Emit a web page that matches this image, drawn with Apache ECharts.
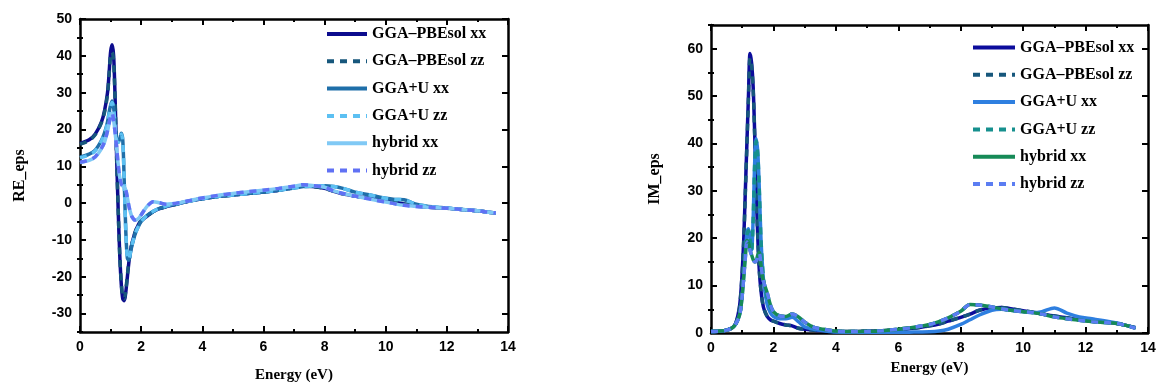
<!DOCTYPE html>
<html><head><meta charset="utf-8">
<script src="https://cdn.jsdelivr.net/npm/echarts@6/dist/echarts.min.js"></script>
<style>html,body{margin:0;padding:0;background:#fff}#c{width:1160px;height:388px}</style>
</head><body><div id="c"></div>
<script>
// Energy grid (eV)
const energy = [0,0.3,0.5,0.7,0.8,0.9,0.95,1.0,1.05,1.1,1.15,1.2,1.25,1.3,1.35,1.4,1.45,1.5,1.55,1.6,1.65,1.7,1.8,1.9,2.0,2.2,2.4,2.6,2.8,3.0,3.3,3.6,4.0,4.5,5.0,5.5,6.0,6.5,7.0,7.3,7.6,8.0,8.3,8.6,9.0,9.3,9.6,10.0,10.3,10.6,11.0,11.4,11.8,12.2,12.6,13.0,13.3,13.6];

const legendNames = ['GGA–PBEsol xx','GGA–PBEsol zz','GGA+U xx','GGA+U zz','hybrid xx','hybrid zz'];
const xTicks = [0,2,4,6,8,10,12,14];
const reTicks = [-30,-20,-10,0,10,20,30,40,50];
const imTicks = [0,10,20,30,40,50,60];

// RE_eps
const re_pbe_xx = [16.2,17.2,18.8,22,25,30,35,41,43,40,28,12,-2,-14,-22,-26,-26.5,-24,-20,-16,-13,-11,-8,-6,-4.8,-3.5,-2.3,-1.5,-1,-0.6,0,0.6,1.2,1.8,2.2,2.6,3.0,3.5,4.2,4.6,4.5,4.0,3.2,2.5,1.9,1.5,1.1,0.6,0.3,-0.2,-0.8,-1.1,-1.3,-1.5,-1.8,-2.1,-2.4,-2.7];
const re_pbe_zz = [16.0,17.0,18.6,21.8,24.6,29.5,34.5,40,41,38.5,27,11.5,-2,-14,-21.5,-25.5,-26,-23.5,-19.5,-15.8,-13,-11,-8,-6,-4.8,-3.5,-2.3,-1.5,-1,-0.6,0,0.6,1.2,1.8,2.2,2.6,3.0,3.5,4.2,4.6,4.5,4.0,3.2,2.5,1.9,1.5,1.1,0.6,0.3,-0.2,-0.8,-1.1,-1.3,-1.5,-1.8,-2.1,-2.4,-2.7];
const re_u_xx = [12.5,13.3,14.4,17,19,22,24.5,26.5,27.7,26,21,17,16.5,17.5,19,17,5,-8,-15,-15.5,-13.5,-11.5,-8.5,-6.5,-5,-3.3,-2.2,-1.4,-0.9,-0.5,0.1,0.6,1.2,1.8,2.2,2.6,3.0,3.5,4.1,4.5,4.6,4.7,4.5,4.0,3.0,2.5,2.0,1.3,1.0,0.9,-0.3,-0.9,-1.2,-1.5,-1.8,-2.1,-2.4,-2.7];
const re_u_zz = [12.3,13.1,14.2,16.8,18.8,21.7,24.2,26.2,27.3,25.7,20.8,17,16.5,17.4,18.8,16.8,5,-8,-14.8,-15.3,-13.4,-11.4,-8.5,-6.5,-5,-3.3,-2.2,-1.4,-0.9,-0.5,0.1,0.6,1.2,1.8,2.2,2.6,3.0,3.5,4.1,4.5,4.6,4.7,4.5,4.0,3.0,2.5,2.0,1.3,1.0,0.9,-0.3,-0.9,-1.2,-1.5,-1.8,-2.1,-2.4,-2.7];
const re_h_xx = [11.0,11.6,12.5,14.8,16.5,19.5,21.5,23.5,24.5,22.5,19,15,10.5,7,5.2,4.6,4.3,3.5,1.5,-0.8,-2.5,-3.7,-4.6,-4.3,-3.2,-0.8,0.4,0.1,-0.3,-0.2,0.2,0.7,1.4,2.1,2.6,3.1,3.5,4.0,4.6,5.0,4.8,4.3,3.3,2.6,1.9,1.4,0.9,0.3,-0.2,-0.6,-0.9,-1.1,-1.3,-1.5,-1.8,-2.1,-2.4,-2.7];
const re_h_zz = [11.1,11.7,12.6,14.9,16.6,19.6,21.6,23.6,24.4,22.4,19,15,10.5,7,5.2,4.6,4.3,3.5,1.5,-0.8,-2.5,-3.7,-4.6,-4.3,-3.2,-0.8,0.4,0.1,-0.3,-0.2,0.2,0.7,1.4,2.1,2.6,3.1,3.5,4.0,4.6,5.0,4.8,4.3,3.3,2.6,1.9,1.4,0.9,0.3,-0.2,-0.6,-0.9,-1.1,-1.3,-1.5,-1.8,-2.1,-2.4,-2.7];

// IM_eps
const im_pbe_xx = [0.3,0.4,0.6,1.2,2.2,5,8,13,20,30,40,50,59,57,52,42,30,20,13,9,6.5,5,3.5,2.8,2.5,2.0,1.7,1.5,1.0,0.8,0.6,0.5,0.3,0.3,0.4,0.5,0.7,1.0,1.5,1.9,2.5,3.3,4.0,4.8,5.3,5.4,5.1,4.7,4.4,4.0,3.6,3.2,2.8,2.5,2.3,2.0,1.6,1.1];
const im_pbe_zz = [0.3,0.4,0.6,1.2,2.1,4.8,7.8,12.8,19.5,29.5,39.5,49.5,58,56.5,51.5,41.5,30,20,13,9,6.5,5,3.5,2.8,2.5,2.0,1.7,1.5,1.0,0.8,0.6,0.5,0.3,0.3,0.4,0.5,0.7,1.0,1.5,1.9,2.5,3.3,4.0,4.8,5.3,5.4,5.1,4.7,4.4,4.0,3.6,3.2,2.8,2.5,2.3,2.0,1.6,1.1];
const im_u_xx = [0.3,0.4,0.6,1.2,2.0,3.5,5,8,12,17,21,22,20,17.5,24,36,41,38,30,20,14,10,6,4.3,3.5,3.0,3.0,3.3,2.4,1.3,0.8,0.5,0.2,0.15,0.15,0.15,0.15,0.2,0.25,0.4,0.8,1.8,2.8,3.8,4.8,5.0,4.8,4.5,4.3,4.5,5.3,4.2,3.4,3.0,2.6,2.1,1.6,1.1];
const im_u_zz = [0.3,0.4,0.6,1.2,2.0,3.5,5,8,12,16.8,20.6,21.6,19.8,17.4,23.6,35.5,40.5,37.6,29.6,19.8,14,10.3,7.5,5.5,4.5,3.6,3.5,4.0,3.4,2.3,1.2,0.8,0.4,0.3,0.35,0.5,0.8,1.2,1.8,2.4,3.2,4.6,6.0,5.9,5.5,5.1,4.8,4.5,4.3,4.0,3.4,3.0,2.7,2.4,2.2,2.0,1.6,1.0];
const im_h_xx = [0.3,0.4,0.6,1.2,2.0,3.5,5,8,12,16,19.5,19,17.5,16.5,15.5,15,15.2,16.5,17,14.5,12,10.5,8.5,6,4.5,3.6,3.5,4.0,3.4,2.3,1.2,0.8,0.4,0.3,0.35,0.5,0.8,1.2,1.8,2.4,3.2,4.6,6.0,5.9,5.5,5.1,4.8,4.5,4.3,4.0,3.4,3.0,2.7,2.4,2.2,2.0,1.6,1.0];
const im_h_zz = [0.3,0.4,0.6,1.2,2.0,3.4,4.9,7.9,11.8,15.8,19.2,18.8,17.4,16.4,15.5,15,15.2,16.4,16.8,14.4,12,10.5,8.5,6,4.5,3.6,3.5,4.0,3.4,2.3,1.2,0.8,0.4,0.3,0.35,0.5,0.8,1.2,1.8,2.4,3.2,4.6,6.0,5.9,5.5,5.1,4.8,4.5,4.3,4.0,3.4,3.0,2.7,2.4,2.2,2.0,1.6,1.0];

const reSeries = [re_pbe_xx, re_pbe_zz, re_u_xx, re_u_zz, re_h_xx, re_h_zz];
const imSeries = [im_pbe_xx, im_pbe_zz, im_u_xx, im_u_zz, im_h_xx, im_h_zz];
const reColors = ['#0c0c8e','#17577c','#1f6fa9','#5cc0f2','#80c9f5','#6071f4'];
const imColors = ['#0c0c9c','#17577c','#2e7fe0','#16908e','#168a57','#5b7df2'];
const dashed = [false,true,false,true,false,true];

const serif = 'Liberation Serif';
const sans = 'Liberation Sans';

function pairs(vals){ return energy.map((e,i)=>[e, vals[i]]); }

function xAx(gi, pos, showLabel){
  return {type:'value', gridIndex:gi, position:pos, min:0, max:14, interval:2,
    axisLine:{show:true, onZero:false, lineStyle:{color:'#000', width:2.5}},
    axisTick:{show:true, inside:true, length:6, lineStyle:{color:'#000', width:2}},
    minorTick:{show:true, splitNumber:2, length:3, lineStyle:{color:'#000', width:2}},
    splitLine:{show:false}, minorSplitLine:{show:false},
    axisLabel:{show:showLabel, color:'#000', fontFamily:sans, fontWeight:'bold', fontSize:14, margin:8},
    name: showLabel ? 'Energy (eV)' : '', nameLocation:'middle', nameGap: gi===0?36:28,
    nameTextStyle:{color:'#000', fontFamily:serif, fontWeight:'bold', fontSize:15}
  };
}
function yAx(gi, pos, min, max, ticks, showLabel, name, nameGap){
  return {type:'value', gridIndex:gi, position:pos, min:min, max:max,
    axisLine:{show:true, onZero:false, lineStyle:{color:'#000', width:2.5}},
    axisTick:{show:true, inside:true, length:6, customValues:ticks, lineStyle:{color:'#000', width:2}},
    splitLine:{show:false},
    axisLabel:{show:showLabel, customValues:ticks, color:'#000', fontFamily:sans, fontWeight:'bold', fontSize:14, margin:8},
    name: showLabel ? name : '', nameLocation:'middle', nameGap:nameGap, nameRotate:90,
    nameTextStyle:{color:'#000', fontFamily:serif, fontWeight:'bold', fontSize:16}
  };
}
function yMinor(gi, pos, min, max, ticks){
  return {type:'value', gridIndex:gi, position:pos, min:min, max:max,
    axisLine:{show:false}, splitLine:{show:false}, axisLabel:{show:false},
    axisTick:{show:true, inside:true, length:3, customValues:ticks, lineStyle:{color:'#000', width:2}}
  };
}
const reMinor = reTicks.map(v=>v-5);
const imMinor = imTicks.map(v=>v+5);

const series = [];
reSeries.forEach((d,i)=>{
  series.push({type:'line', name:'L:'+legendNames[i], xAxisIndex:0, yAxisIndex:0, data:pairs(d),
    symbol:'none', smooth:0.3, color:reColors[i],
    lineStyle:{color:reColors[i], width:3.5, type: dashed[i]?[7,6]:'solid'}});
});
imSeries.forEach((d,i)=>{
  series.push({type:'line', name:'R:'+legendNames[i], xAxisIndex:2, yAxisIndex:4, data:pairs(d),
    symbol:'none', smooth:0.3, color:imColors[i],
    lineStyle:{color:imColors[i], width:3.5, type: dashed[i]?[7,6]:'solid'}});
});

const legendText = {color:'#000', fontFamily:serif, fontWeight:'bold', fontSize:16, lineHeight:16};
const legendCommon = {orient:'vertical', itemHeight:16, itemGap:11.3, formatter:n=>n.slice(2),
  textStyle:legendText, selectedMode:false, itemStyle:{opacity:0}, lineStyle:{width:4}};
const option = {
  animation:false,
  backgroundColor:'#fff',
  grid:[
    {left:80, top:19, width:428, height:313},
    {left:711, top:25, width:437, height:308}
  ],
  xAxis:[xAx(0,'bottom',true), xAx(0,'top',false), xAx(1,'bottom',true), xAx(1,'top',false)],
  yAxis:[
    yAx(0,'left',-35,50,reTicks,true,'RE_eps',52),
    yAx(0,'right',-35,50,reTicks,false,'',0),
    yMinor(0,'left',-35,50,reMinor),
    yMinor(0,'right',-35,50,reMinor),
    yAx(1,'left',0,65,imTicks,true,'IM_eps',48),
    yAx(1,'right',0,65,imTicks,false,'',0),
    yMinor(1,'left',0,65,imMinor),
    yMinor(1,'right',0,65,imMinor)
  ],
  legend:[
    Object.assign({left:320, top:21, itemWidth:40, data:legendNames.map(n=>'L:'+n)}, legendCommon),
    Object.assign({left:966, top:34.5, itemWidth:42, data:legendNames.map(n=>'R:'+n)}, legendCommon)
  ],
  series:series
};
const chart = echarts.init(document.getElementById('c'), null, {renderer:'canvas'});
chart.setOption(option);
</script>
</body></html>
